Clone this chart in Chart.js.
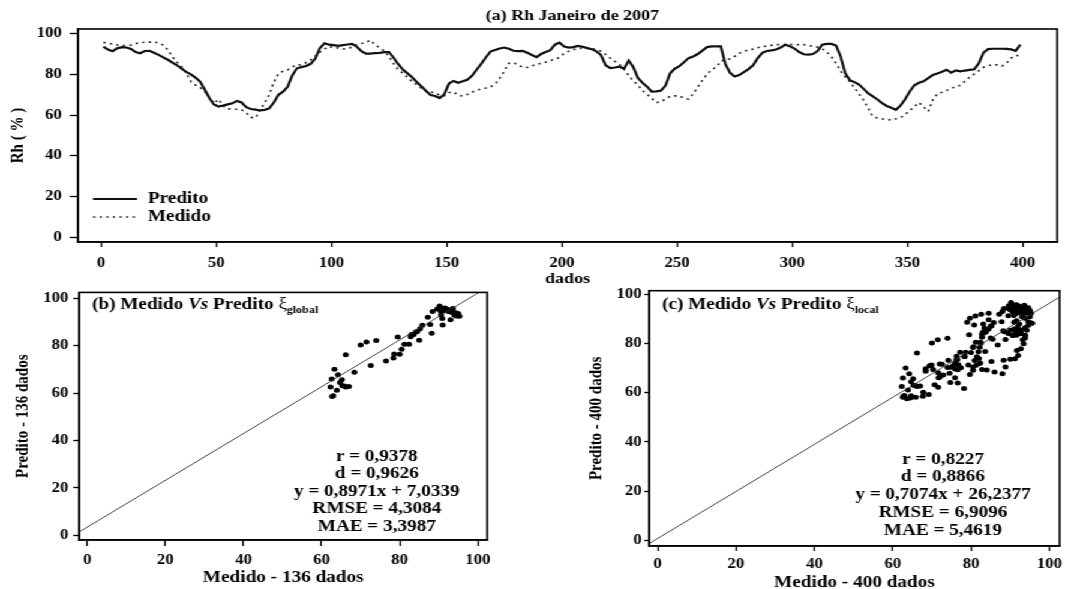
<!DOCTYPE html>
<html>
<head>
<meta charset="utf-8">
<title>Rh Janeiro de 2007</title>
<script src="https://cdn.jsdelivr.net/npm/chart.js@4.4.0/dist/chart.umd.min.js"></script>
<style>
  html, body { margin: 0; padding: 0; background: #fff; overflow: hidden; }
  /* the original figure is a horizontally stretched scan, so the whole stage is stretched too */
  #stage { position: absolute; left: 0; top: 0; width: 892.5px; height: 589px; transform: scaleX(1.2); transform-origin: 0 0; }
  #stage canvas { position: absolute; }
</style>
</head>
<body>
<div id="stage">
  <canvas id="rhChart" width="892" height="295" style="left:0;top:0;width:892px;height:295px"></canvas>
  <canvas id="globalChart" width="440" height="309" style="left:0;top:280px;width:440px;height:309px"></canvas>
  <canvas id="localChart" width="442" height="320" style="left:450px;top:280px;width:442px;height:320px"></canvas>
</div>
<script>
/*
DATA
*/
const rhStart = 1;   // first "dados" index
const rhStep = 2;    // one value read every 2 dados

const predito = [
  93.6, 92.2, 91.4, 92.8, 93.4, 93.2, 92.5, 91, 90.4, 91.5,
  91.6, 90.6, 89.6, 88.4, 87.2, 85.8, 84.5, 82.8, 81.2, 80,
  78.4, 76.5, 72.6, 68.4, 65.2, 64.2, 64.7, 65.3, 65.8, 67,
  66.2, 63.9, 63, 62.7, 62.3, 62.6, 63.3, 66.2, 70, 71.5,
  74, 79.5, 83, 83.6, 84.1, 85.2, 87.8, 93, 95.3, 94.6,
  94.4, 94, 94.4, 94.7, 95, 93.6, 91.4, 90.2, 90.2, 90.5,
  90.6, 90.9, 91, 88.2, 85, 82.4, 80.5, 78.6, 76.3, 74.2,
  72, 69.9, 69.4, 68.4, 70.3, 75.5, 76.8, 75.9, 76.6, 77.4,
  79.3, 82.3, 85.2, 88.3, 91.2, 92, 92.7, 93.2, 92.6, 91.6,
  91.4, 91.6, 90.6, 89.5, 88.5, 90, 91, 91.9, 94.6, 95.6,
  93.7, 93.2, 93.4, 94, 93.6, 92.9, 92.4, 91.3, 89.5, 84.5,
  83.1, 83.4, 83.8, 82.8, 86.8, 83.6, 78.3, 75.9, 74, 71.6,
  71.7, 72, 74.5, 80.5, 82.8, 84, 86, 88, 88.8, 90,
  91.7, 93.4, 93.8, 93.8, 93.8, 85, 80.8, 79, 79.7, 81.1,
  82.6, 84.5, 88, 90.6, 91.5, 91.8, 92.2, 93.2, 94.6, 93.8,
  92.7, 91, 89.9, 89.7, 90, 91.5, 94.6, 95, 95, 94.2,
  88.8, 80.6, 77.2, 76.2, 75, 72.9, 70.7, 69.2, 67.7, 65.9,
  64.5, 63.6, 62.6, 64.7, 67.8, 71.6, 74.7, 75.9, 76.6, 78.2,
  79.7, 80.5, 81.3, 82.3, 80.9, 82, 81.5, 81.9, 82.2, 82.5,
  85.5, 90.7, 92.4, 92.6, 92.6, 92.6, 92.5, 92.3, 91.6, 94.6
];

const medido = [
  95.7, 95.4, 94.9, 94.5, 94.3, 94.1, 94.4, 95.1, 95.6, 95.8,
  95.9, 95.9, 95.5, 94.4, 92, 88.6, 86, 83.8, 80.6, 76.4,
  74.8, 73.6, 71.7, 68.8, 65.7, 67.8, 64.5, 63.1, 63, 62.8,
  62.6, 61.2, 58.9, 58.6, 62.6, 66, 70.1, 76.2, 80.3, 81.6,
  82.2, 83.7, 84.7, 84.7, 85.8, 87.2, 89, 91, 92.4, 93.8,
  93, 93, 92.5, 92.6, 93.5, 94.7, 95.2, 95.8, 96.8, 94.5,
  93, 91.5, 88.8, 85.3, 82.3, 80.6, 78.5, 76.5, 74.9, 73.3,
  71.8, 71.3, 71, 69.8, 69.5, 71.1, 71.4, 69.7, 69.4, 70.2,
  71.3, 72.2, 72.8, 73.3, 73.9, 75.2, 78, 81.6, 85.5, 85.8,
  84.7, 83.5, 83.4, 84.2, 84.9, 85.5, 86, 86.8, 87.5, 88.3,
  90.4, 91.4, 92.2, 92.7, 93, 93, 92.7, 92.1, 91.4, 89.8,
  88, 86.4, 84.9, 82.6, 79.5, 76.8, 74.8, 72, 70.3, 68.2,
  66.2, 66.5, 68, 69.2, 69.5, 69.3, 68.5, 67.8, 70.5, 73.7,
  77.2, 80, 82.3, 83.5, 86.5, 87.2, 87.6, 88.8, 90.4, 91.3,
  92, 92.4, 93.1, 93.6, 93.9, 94.3, 94.6, 94.6, 94.7, 94.8,
  94.6, 94.6, 94.6, 94.2, 93.8, 93.4, 92.6, 91, 88.7, 85.5,
  81.7, 78.8, 76.5, 73.4, 70.4, 67.3, 63.3, 59.3, 58.6, 58.2,
  57.9, 57.6, 58.2, 58.8, 60.2, 62.3, 64.2, 66.2, 64, 61.8,
  67.5, 70.5, 71.2, 72.1, 73.2, 74, 74.7, 76.7, 78.6, 80.2,
  81.8, 83.5, 84.3, 84.7, 84.7, 84.1, 85.6, 88, 89.4, 89
];

const dados = predito.map((v, i) => rhStart + i * rhStep);

const rhTicksX = [0, 50, 100, 150, 200, 250, 300, 350, 400];
const rhTicksY = [0, 20, 40, 60, 80, 100];
const scatterTicks = [0, 20, 40, 60, 80, 100];

const nGlobal = 136;   // panel (b) uses the first 136 dados

// reference lines drawn in the two scatter panels
const lineGlobalX = [-2, 100.3];
const lineGlobalY = [1.5, 102.5];
const lineLocalX = [-2.2, 102.6];
const lineLocalY = [-1.4, 99];

const statsGlobal = ['r = 0,9378', 'd = 0,9626', 'y = 0,8971x + 7,0339', 'RMSE = 4,3084', 'MAE = 3,3987'];
const statsLocal = ['r = 0,8227', 'd = 0,8866', 'y = 0,7074x + 26,2377', 'RMSE = 6,9096', 'MAE = 5,4619'];

/*
HELPERS
*/
const SERIF = "'Liberation Serif', 'Times New Roman', serif";
function boldFont(size) { return { family: SERIF, size: size, weight: 'bold' }; }
function fontStr(size, italic) { return (italic ? 'italic ' : '') + 'bold ' + size + 'px ' + SERIF; }

function axis(o) {
  return {
    type: 'linear',
    min: o.min,
    max: o.max,
    afterBuildTicks: s => { s.ticks = o.ticks.map(v => ({ value: v })); },
    afterFit: s => {
      if (o.width) s.width = o.width;
      if (o.height) s.height = o.height;
    },
    grid: { drawOnChartArea: false, drawTicks: true, tickLength: o.tickLength, tickColor: '#000', tickWidth: 1.3 },
    border: { display: true, color: '#000', width: 1.6 },
    ticks: { color: '#000', font: boldFont(o.tickSize), padding: o.tickPad, autoSkip: false, maxRotation: 0, minRotation: 0 },
    title: { display: true, text: o.title, color: '#000', font: boldFont(o.titleSize), padding: o.titlePad }
  };
}

const boxPlugin = {
  id: 'plotBox',
  afterDraw(chart) {
    const a = chart.chartArea, ctx = chart.ctx;
    ctx.save();
    ctx.strokeStyle = '#000';
    ctx.lineWidth = 1.6;
    ctx.strokeRect(a.left, a.top, a.right - a.left, a.bottom - a.top);
    ctx.restore();
  }
};

function drawRuns(ctx, runs, x, y) {
  ctx.textAlign = 'left';
  ctx.textBaseline = 'middle';
  for (const r of runs) {
    ctx.font = r.font;
    ctx.fillText(r.t, x, y + (r.dy || 0));
    x += ctx.measureText(r.t).width;
  }
}

function textPlugin(items) {
  return {
    id: 'panelText',
    afterDraw(chart) {
      const ctx = chart.ctx;
      ctx.save();
      ctx.fillStyle = '#000';
      for (const item of items) {
        if (item.runs) {
          drawRuns(ctx, item.runs, item.x, item.y);
          continue;
        }
        ctx.font = fontStr(item.size);
        ctx.textAlign = item.align || 'center';
        ctx.textBaseline = 'middle';
        item.lines.forEach((t, k) => ctx.fillText(t, item.x, item.y + k * (item.gap || 0)));
      }
      ctx.restore();
    }
  };
}

function legendPlugin(o) {
  return {
    id: 'insetLegend',
    afterDraw(chart) {
      const ctx = chart.ctx;
      ctx.save();
      chart.data.datasets.forEach((ds, k) => {
        const y = o.y + k * o.gap;
        ctx.strokeStyle = ds.borderColor;
        ctx.lineWidth = ds.borderWidth;
        ctx.setLineDash(ds.borderDash || []);
        ctx.beginPath();
        ctx.moveTo(o.x, y);
        ctx.lineTo(o.x + o.len, y);
        ctx.stroke();
        ctx.setLineDash([]);
        ctx.fillStyle = '#000';
        ctx.font = fontStr(o.size);
        ctx.textAlign = 'left';
        ctx.textBaseline = 'middle';
        ctx.fillText(ds.label, o.x + o.len + o.textGap, y);
      });
      ctx.restore();
    }
  };
}

function titleRuns(tag, sub) {
  return [
    { t: tag + ' Medido ', font: fontStr(16) },
    { t: 'Vs', font: fontStr(16, true) },
    { t: ' Predito ', font: fontStr(16) },
    { t: '\u03BE', font: '16px ' + SERIF },
    { t: sub, font: fontStr(10), dy: 5 }
  ];
}

/*
(a) TIME SERIES CHART
*/
const rhData = {
  datasets: [{
    label: 'Predito',
    data: dados.map((d, i) => ({ x: d, y: predito[i] })),
    borderColor: '#111',
    borderWidth: 2.2,
    pointRadius: 0,
    tension: 0
  }, {
    label: 'Medido',
    data: dados.map((d, i) => ({ x: d, y: medido[i] })),
    borderColor: '#333',
    borderWidth: 1.7,
    borderDash: [2, 3.5],
    pointRadius: 0,
    tension: 0
  }]
};

const rhConfig = {
  type: 'line',
  data: rhData,
  options: {
    responsive: false,
    animation: false,
    events: [],
    devicePixelRatio: 1,
    layout: { padding: { left: 0, top: 29, right: 11, bottom: 0 } },
    plugins: { legend: { display: false }, tooltip: { enabled: false } },
    scales: {
      x: axis({ min: -10, max: 415, ticks: rhTicksX, height: 53, tickLength: 5, tickSize: 14, tickPad: 8,
                title: 'dados', titleSize: 15, titlePad: { top: 0, bottom: 7 } }),
      y: axis({ min: -2.3, max: 102.3, ticks: rhTicksY, width: 65, tickLength: 7, tickSize: 14, tickPad: 6.5,
                title: 'Rh ( % )', titleSize: 15, titlePad: { top: 6.4, bottom: 0 } })
    }
  },
  plugins: [
    boxPlugin,
    textPlugin([{ lines: ['(a) Rh Janeiro de 2007'], x: 477, y: 16, size: 15 }]),
    legendPlugin({ x: 77.5, y: 199, gap: 18, len: 36.7, textGap: 9, size: 16 })
  ]
};
const rhChart = new Chart(document.getElementById('rhChart'), rhConfig);

/*
(b) MEDIDO VS PREDITO, GLOBAL
*/
const globalPoints = [];
dados.forEach((d, i) => { if (d <= nGlobal) globalPoints.push({ x: predito[i], y: medido[i] }); });

const globalConfig = {
  type: 'scatter',
  data: {
    datasets: [{
      data: lineGlobalX.map((x, i) => ({ x: x, y: lineGlobalY[i] })),
      showLine: true,
      borderColor: '#333',
      borderWidth: 0.9,
      pointRadius: 0
    }, {
      data: globalPoints,
      pointRadius: 2.5,
      pointBackgroundColor: '#000',
      pointBorderWidth: 0
    }]
  },
  options: {
    responsive: false,
    animation: false,
    events: [],
    devicePixelRatio: 1,
    layout: { padding: { left: 0, top: 7, right: 34, bottom: 0 } },
    plugins: { legend: { display: false }, tooltip: { enabled: false } },
    scales: {
      x: axis({ min: -2.05, max: 102.4, ticks: scatterTicks, height: 49, tickLength: 6, tickSize: 14, tickPad: 5.5,
                title: 'Medido - 136 dados', titleSize: 16, titlePad: { top: 0, bottom: 1.5 } }),
      y: axis({ min: -1.94, max: 102.5, ticks: scatterTicks, width: 66, tickLength: 5, tickSize: 14, tickPad: 4,
                title: 'Predito - 136 dados', titleSize: 15, titlePad: { top: 10, bottom: 0 } })
    }
  },
  plugins: [
    boxPlugin,
    textPlugin([
      { runs: titleRuns('(b)', 'global'), x: 76.7, y: 25 },
      { lines: statsGlobal, x: 314, y: 176.6, gap: 17.5, size: 16 }
    ])
  ]
};
const globalChart = new Chart(document.getElementById('globalChart'), globalConfig);

/*
(c) MEDIDO VS PREDITO, LOCAL
*/
const localPoints = dados.map((d, i) => ({ x: predito[i], y: medido[i] }));

const localConfig = {
  type: 'scatter',
  data: {
    datasets: [{
      data: lineLocalX.map((x, i) => ({ x: x, y: lineLocalY[i] })),
      showLine: true,
      borderColor: '#333',
      borderWidth: 0.9,
      pointRadius: 0
    }, {
      data: localPoints,
      pointRadius: 2.5,
      pointBackgroundColor: '#000',
      pointBorderWidth: 0
    }]
  },
  options: {
    responsive: false,
    animation: false,
    events: [],
    devicePixelRatio: 1,
    layout: { padding: { left: 0, top: 10, right: 9, bottom: 0 } },
    plugins: { legend: { display: false }, tooltip: { enabled: false } },
    scales: {
      x: axis({ min: -2.17, max: 102.6, ticks: scatterTicks, height: 54, tickLength: 5, tickSize: 14, tickPad: 4.6,
                title: 'Medido - 400 dados', titleSize: 16, titlePad: { top: 0, bottom: 7.4 } }),
      y: axis({ min: -2.36, max: 101.6, ticks: scatterTicks, width: 91, tickLength: 4, tickSize: 14, tickPad: 2.3,
                title: 'Predito - 400 dados', titleSize: 15, titlePad: { top: 37.7, bottom: 0 } })
    }
  },
  plugins: [
    boxPlugin,
    textPlugin([
      { runs: titleRuns('(c)', 'local'), x: 101.7, y: 25 },
      { lines: statsLocal, x: 335.8, y: 179.5, gap: 17.8, size: 16 }
    ])
  ]
};
const localChart = new Chart(document.getElementById('localChart'), localConfig);
</script>
</body>
</html>
